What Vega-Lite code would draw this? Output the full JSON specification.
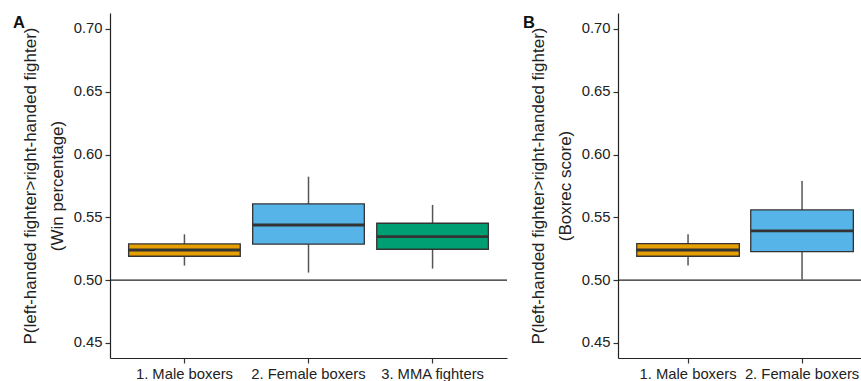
{
  "$schema": "https://vega.github.io/schema/vega-lite/v6.json",
  "background": "white",
  "padding": {"left": 13, "top": 13, "right": 0, "bottom": 0},
  "spacing": 111,
  "bounds": "flush",
  "config": {
    "view": {"stroke": null},
    "font": "Liberation Sans",
    "axis": {
      "grid": false,
      "domainColor": "#222222",
      "domainWidth": 1.2,
      "tickColor": "#333333",
      "tickWidth": 1.2,
      "tickSize": 5,
      "labelColor": "#222222",
      "labelFont": "Liberation Sans",
      "labelFontSize": 14.8,
      "titleFont": "Liberation Sans",
      "titleFontSize": 17,
      "titleFontWeight": "normal",
      "titleColor": "#222222"
    },
    "title": {"font": "Liberation Sans", "fontSize": 16.5, "fontWeight": "bold", "color": "#111111"}
  },
  "datasets": {
    "win": [
      {"group": "1. Male boxers", "lo": 0.5116, "q1": 0.519, "med": 0.524, "q3": 0.5288, "hi": 0.5365},
      {"group": "2. Female boxers", "lo": 0.506, "q1": 0.5286, "med": 0.5439, "q3": 0.5607, "hi": 0.5824},
      {"group": "3. MMA fighters", "lo": 0.5092, "q1": 0.5246, "med": 0.5346, "q3": 0.5453, "hi": 0.5599}
    ],
    "boxrec": [
      {"group": "1. Male boxers", "lo": 0.5116, "q1": 0.519, "med": 0.524, "q3": 0.529, "hi": 0.5365},
      {"group": "2. Female boxers", "lo": 0.5005, "q1": 0.5227, "med": 0.5392, "q3": 0.5559, "hi": 0.579}
    ],
    "ref": [{"y": 0.5}]
  },
  "hconcat": [
    {
      "width": 397,
      "height": 345,
      "title": {"text": "A", "anchor": "start", "frame": "group", "dx": -97, "offset": -18, "baseline": "top"},
      "layer": [
        {
          "data": {"name": "win"},
          "mark": {"type": "rule", "color": "#555555", "strokeWidth": 1.5},
          "encoding": {
            "x": {"field": "group", "type": "nominal",
              "scale": {"paddingInner": 0.1, "paddingOuter": 0.15},
              "axis": {"title": null, "labelAngle": 0, "labelPadding": 3}},
            "y": {"field": "lo", "type": "quantitative",
              "scale": {"domain": [0.438, 0.7127], "nice": false, "zero": false},
              "axis": {"values": [0.45, 0.5, 0.55, 0.6, 0.65, 0.7], "format": ".2f", "labelPadding": 3,
                "title": ["P(left-handed fighter>right-handed fighter)", "(Win percentage)"],
                "titleLineHeight": 27, "titlePadding": 7}},
            "y2": {"field": "hi"}
          }
        },
        {
          "data": {"name": "win"},
          "mark": {"type": "bar", "stroke": "#333333", "strokeWidth": 1.3},
          "encoding": {
            "x": {"field": "group", "type": "nominal"},
            "y": {"field": "q1", "type": "quantitative"},
            "y2": {"field": "q3"},
            "fill": {"field": "group", "type": "nominal", "legend": null,
              "scale": {"domain": ["1. Male boxers", "2. Female boxers", "3. MMA fighters"], "range": ["#E69F00", "#56B4E9", "#009E73"]}}
          }
        },
        {
          "data": {"name": "win"},
          "mark": {"type": "bar", "fill": null, "stroke": "#333333", "strokeWidth": 2.8},
          "encoding": {
            "x": {"field": "group", "type": "nominal"},
            "y": {"field": "med", "type": "quantitative"},
            "y2": {"field": "med"}
          }
        },
        {
          "data": {"name": "ref"},
          "mark": {"type": "rule", "color": "#222222", "strokeWidth": 1.4},
          "encoding": {"y": {"field": "y", "type": "quantitative"}}
        }
      ]
    },
    {
      "width": 243,
      "height": 345,
      "title": {"text": "B", "anchor": "start", "frame": "group", "dx": -95, "offset": -18, "baseline": "top"},
      "layer": [
        {
          "data": {"name": "boxrec"},
          "mark": {"type": "rule", "color": "#555555", "strokeWidth": 1.5},
          "encoding": {
            "x": {"field": "group", "type": "nominal",
              "scale": {"paddingInner": 0.1, "paddingOuter": 0.1158, "align": 0.71},
              "axis": {"title": null, "labelAngle": 0, "labelPadding": 3}},
            "y": {"field": "lo", "type": "quantitative",
              "scale": {"domain": [0.438, 0.7127], "nice": false, "zero": false},
              "axis": {"values": [0.45, 0.5, 0.55, 0.6, 0.65, 0.7], "format": ".2f", "labelPadding": 3,
                "title": ["P(left-handed fighter>right-handed fighter)", "(Boxrec score)"],
                "titleLineHeight": 27, "titlePadding": 7}},
            "y2": {"field": "hi"}
          }
        },
        {
          "data": {"name": "boxrec"},
          "mark": {"type": "bar", "stroke": "#333333", "strokeWidth": 1.3},
          "encoding": {
            "x": {"field": "group", "type": "nominal"},
            "y": {"field": "q1", "type": "quantitative"},
            "y2": {"field": "q3"},
            "fill": {"field": "group", "type": "nominal", "legend": null,
              "scale": {"domain": ["1. Male boxers", "2. Female boxers"], "range": ["#E69F00", "#56B4E9"]}}
          }
        },
        {
          "data": {"name": "boxrec"},
          "mark": {"type": "bar", "fill": null, "stroke": "#333333", "strokeWidth": 2.8},
          "encoding": {
            "x": {"field": "group", "type": "nominal"},
            "y": {"field": "med", "type": "quantitative"},
            "y2": {"field": "med"}
          }
        },
        {
          "data": {"name": "ref"},
          "mark": {"type": "rule", "color": "#222222", "strokeWidth": 1.4},
          "encoding": {"y": {"field": "y", "type": "quantitative"}}
        }
      ]
    }
  ],
  "resolve": {"scale": {"fill": "independent", "x": "independent", "y": "independent"}}
}
